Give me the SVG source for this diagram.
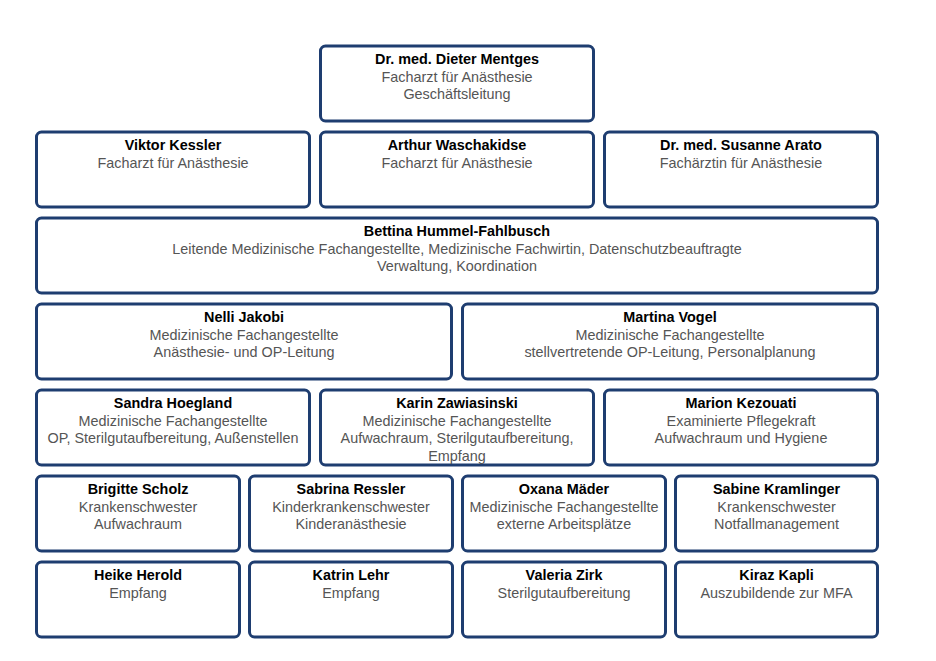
<svg xmlns="http://www.w3.org/2000/svg" width="936" height="661" viewBox="0 0 936 661">
<style>
.b{fill:#fff;stroke:#1e3d70;stroke-width:3}
text{font-family:"Liberation Sans",Arial,Helvetica,sans-serif;font-size:14.4px;text-anchor:middle}
.n{font-weight:bold;fill:#000}
.s{fill:#555}
</style>
<rect width="936" height="661" fill="#fff"/>
<g id="connectors"/>
<g id="mentges"><rect class="b" x="320.5" y="46" width="273" height="75" rx="5"/>
<text class="n" x="457" y="64">Dr. med. Dieter Mentges</text>
<text class="s" x="457" y="81.5">Facharzt für Anästhesie</text>
<text class="s" x="457" y="99">Geschäftsleitung</text></g>

<g id="kessler"><rect class="b" x="36.5" y="132" width="273" height="75" rx="5"/>
<text class="n" x="173" y="150">Viktor Kessler</text>
<text class="s" x="173" y="167.5">Facharzt für Anästhesie</text></g>
<g id="waschakidse"><rect class="b" x="320.5" y="132" width="273" height="75" rx="5"/>
<text class="n" x="457" y="150">Arthur Waschakidse</text>
<text class="s" x="457" y="167.5">Facharzt für Anästhesie</text></g>
<g id="arato"><rect class="b" x="604.5" y="132" width="273" height="75" rx="5"/>
<text class="n" x="741" y="150">Dr. med. Susanne Arato</text>
<text class="s" x="741" y="167.5">Fachärztin für Anästhesie</text></g>

<g id="hummel"><rect class="b" x="36.5" y="218" width="841" height="75" rx="5"/>
<text class="n" x="457" y="236">Bettina Hummel-Fahlbusch</text>
<text class="s" x="457" y="253.5">Leitende Medizinische Fachangestellte, Medizinische Fachwirtin, Datenschutzbeauftragte</text>
<text class="s" x="457" y="271">Verwaltung, Koordination</text></g>

<g id="jakobi"><rect class="b" x="36.5" y="304" width="415" height="75" rx="5"/>
<text class="n" x="244" y="322">Nelli Jakobi</text>
<text class="s" x="244" y="339.5">Medizinische Fachangestellte</text>
<text class="s" x="244" y="357">Anästhesie- und OP-Leitung</text></g>
<g id="vogel"><rect class="b" x="462.5" y="304" width="415" height="75" rx="5"/>
<text class="n" x="670" y="322">Martina Vogel</text>
<text class="s" x="670" y="339.5">Medizinische Fachangestellte</text>
<text class="s" x="670" y="357">stellvertretende OP-Leitung, Personalplanung</text></g>

<g id="hoegland"><rect class="b" x="36.5" y="390" width="273" height="75" rx="5"/>
<text class="n" x="173" y="408">Sandra Hoegland</text>
<text class="s" x="173" y="425.5">Medizinische Fachangestellte</text>
<text class="s" x="173" y="443">OP, Sterilgutaufbereitung, Außenstellen</text></g>
<g id="zawiasinski"><rect class="b" x="320.5" y="390" width="273" height="75" rx="5"/>
<text class="n" x="457" y="408">Karin Zawiasinski</text>
<text class="s" x="457" y="425.5">Medizinische Fachangestellte</text>
<text class="s" x="457" y="443">Aufwachraum, Sterilgutaufbereitung,</text>
<text class="s" x="457" y="460.5">Empfang</text></g>
<g id="kezouati"><rect class="b" x="604.5" y="390" width="273" height="75" rx="5"/>
<text class="n" x="741" y="408">Marion Kezouati</text>
<text class="s" x="741" y="425.5">Examinierte Pflegekraft</text>
<text class="s" x="741" y="443">Aufwachraum und Hygiene</text></g>

<g id="scholz"><rect class="b" x="36.5" y="476" width="203" height="75" rx="5"/>
<text class="n" x="138" y="494">Brigitte Scholz</text>
<text class="s" x="138" y="511.5">Krankenschwester</text>
<text class="s" x="138" y="529">Aufwachraum</text></g>
<g id="ressler"><rect class="b" x="249.5" y="476" width="203" height="75" rx="5"/>
<text class="n" x="351" y="494">Sabrina Ressler</text>
<text class="s" x="351" y="511.5">Kinderkrankenschwester</text>
<text class="s" x="351" y="529">Kinderanästhesie</text></g>
<g id="maeder"><rect class="b" x="462.5" y="476" width="203" height="75" rx="5"/>
<text class="n" x="564" y="494">Oxana Mäder</text>
<text class="s" x="564" y="511.5">Medizinische Fachangestellte</text>
<text class="s" x="564" y="529">externe Arbeitsplätze</text></g>
<g id="kramlinger"><rect class="b" x="675.5" y="476" width="202" height="75" rx="5"/>
<text class="n" x="776.5" y="494">Sabine Kramlinger</text>
<text class="s" x="776.5" y="511.5">Krankenschwester</text>
<text class="s" x="776.5" y="529">Notfallmanagement</text></g>

<g id="herold"><rect class="b" x="36.5" y="562" width="203" height="75" rx="5"/>
<text class="n" x="138" y="580">Heike Herold</text>
<text class="s" x="138" y="597.5">Empfang</text></g>
<g id="lehr"><rect class="b" x="249.5" y="562" width="203" height="75" rx="5"/>
<text class="n" x="351" y="580">Katrin Lehr</text>
<text class="s" x="351" y="597.5">Empfang</text></g>
<g id="zirk"><rect class="b" x="462.5" y="562" width="203" height="75" rx="5"/>
<text class="n" x="564" y="580">Valeria Zirk</text>
<text class="s" x="564" y="597.5">Sterilgutaufbereitung</text></g>
<g id="kapli"><rect class="b" x="675.5" y="562" width="202" height="75" rx="5"/>
<text class="n" x="776.5" y="580">Kiraz Kapli</text>
<text class="s" x="776.5" y="597.5">Auszubildende zur MFA</text></g>
</svg>
